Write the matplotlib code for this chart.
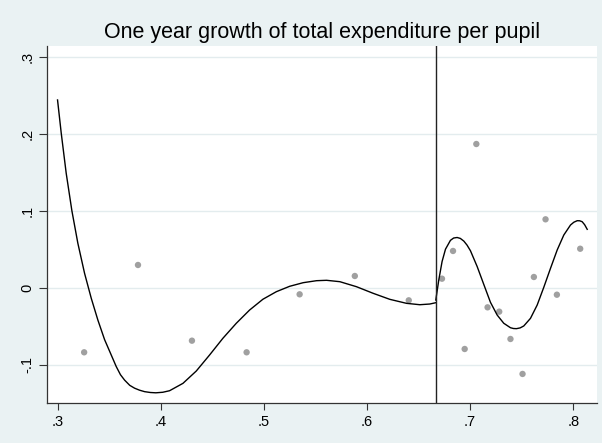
import matplotlib.pyplot as plt
import numpy as np

plt.rcParams['font.family'] = ['Liberation Sans', 'DejaVu Sans']

cutoff = 2 / 3

# Binned means of the one year growth
binX = [0.3258, 0.3780, 0.4303, 0.4833, 0.5347, 0.5882, 0.6405,
        0.6727, 0.6834, 0.6947, 0.7060, 0.7169, 0.7282, 0.7391,
        0.7508, 0.7618, 0.7731, 0.7841, 0.8067]
binY = [-0.0839, 0.0295, -0.0688, -0.0839, -0.0086, 0.0152, -0.0164,
        0.0117, 0.0477, -0.0796, 0.1866, -0.0255, -0.0311, -0.0666,
        -0.1120, 0.0139, 0.0888, -0.0091, 0.0506]

# Fitted curve left of the cutoff
fitLeftX = [0.3000, 0.3036, 0.3084, 0.3139, 0.3197, 0.3262, 0.3327, 0.3391,
            0.3456, 0.3569, 0.3610, 0.3650, 0.3700, 0.3747, 0.3795, 0.3844,
            0.3900, 0.3953, 0.4020, 0.4086, 0.4216, 0.4345, 0.4474, 0.4603,
            0.4733, 0.4862, 0.4991, 0.5121, 0.5250, 0.5381, 0.5511, 0.5608,
            0.5737, 0.5898, 0.6060, 0.6221, 0.6383, 0.6512, 0.6609, 0.6667]
fitLeftY = [0.2438, 0.2005, 0.1486, 0.1000, 0.0577, 0.0187, -0.0138, -0.0420,
            -0.0674, -0.1024, -0.1130, -0.1200, -0.1268, -0.1305, -0.1331, -0.1350,
            -0.1361, -0.1365, -0.1358, -0.1338, -0.1242, -0.1082, -0.0874, -0.0657,
            -0.0462, -0.0290, -0.0150, -0.0052, 0.0018, 0.0065, 0.0091, 0.0096,
            0.0078, 0.0013, -0.0073, -0.0151, -0.0203, -0.0221, -0.0212, -0.0195]

# Fitted curve right of the cutoff
fitRightX = [0.6667, 0.6696, 0.6728, 0.6761, 0.6809, 0.6840, 0.6874, 0.6905,
             0.6939, 0.6970, 0.7003, 0.7068, 0.7133, 0.7197, 0.7262, 0.7326,
             0.7391, 0.7420, 0.7449, 0.7485, 0.7520, 0.7585, 0.7650, 0.7714,
             0.7779, 0.7844, 0.7908, 0.7973, 0.8005, 0.8038, 0.8062, 0.8086,
             0.8110, 0.8135]
fitRightY = [-0.0160, 0.0100, 0.0340, 0.0500, 0.0615, 0.0645, 0.0652, 0.0640,
             0.0605, 0.0553, 0.0480, 0.0275, 0.0040, -0.0190, -0.0355, -0.0462,
             -0.0520, -0.0530, -0.0532, -0.0522, -0.0497, -0.0398, -0.0225, 0.0005,
             0.0251, 0.0490, 0.0684, 0.0814, 0.0850, 0.0870, 0.0869, 0.0857,
             0.0818, 0.0758]

xTicks = [0.3, 0.4, 0.5, 0.6, 0.7, 0.8]
xLabels = ['.3', '.4', '.5', '.6', '.7', '.8']
yTicks = [-0.1, 0, 0.1, 0.2, 0.3]
yLabels = ['-.1', '0', '.1', '.2', '.3']

bg = '#eaf2f3'

fig = plt.figure(figsize=(6.02, 4.43), dpi=100, facecolor=bg)
ax = fig.add_axes([0.0781, 0.0914, 0.9131, 0.8048])
ax.set_facecolor('white')

ax.scatter(binX, binY, s=21, color='#a0a0a0', edgecolors='none', zorder=3)
ax.plot(fitLeftX, fitLeftY, color='black', lw=1.0, zorder=4)
ax.plot(fitRightX, fitRightY, color='black', lw=1.0, zorder=4)
ax.axvline(cutoff, color='#222222', lw=1.0, zorder=4)

ax.set_xlim(0.2898, 0.8227)
ax.set_ylim(-0.1491, 0.3139)

ax.set_xticks(xTicks)
ax.set_xticklabels(xLabels)
ax.set_yticks(yTicks)
ax.set_yticklabels(yLabels, rotation=90, va='center')
ax.tick_params(axis='x', length=5, width=0.8, color='#333333', labelsize=10.5, pad=4)
ax.tick_params(axis='y', length=6, width=0.8, color='#333333', labelsize=10.5, pad=3)

# horizontal grid only
ax.yaxis.grid(True, color='#e3ecee', lw=1.0)
ax.set_axisbelow(True)

for side in ['top', 'right']:
    ax.spines[side].set_visible(False)
for side in ['left', 'bottom']:
    ax.spines[side].set_color('#333333')
    ax.spines[side].set_linewidth(0.9)

ax.set_title('One year growth of total expenditure per pupil', fontsize=15.5, pad=5.8)

fig.savefig('out.png', dpi=100, facecolor=bg)
